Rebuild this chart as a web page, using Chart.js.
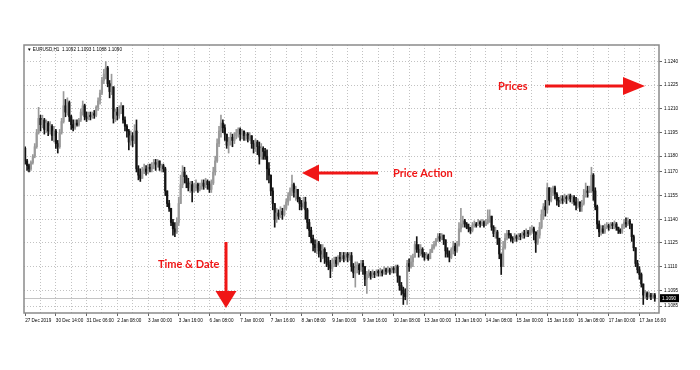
<!DOCTYPE html>
<html>
<head>
<meta charset="utf-8">
<script src="https://cdn.jsdelivr.net/npm/chart.js@4.4.1/dist/chart.umd.min.js"></script>
<style>
  html, body { margin: 0; padding: 0; background: #fff; }
  #wrap { width: 700px; height: 370px; }
</style>
</head>
<body>
<div id="wrap"><canvas id="chart" width="700" height="370"></canvas></div>
<script>
// EURUSD H1 candles, prices stored as pips above 1.1000
const BASE = 1.1;
const firstOpen = 185;

const closes = [
  177,174,172,176,180,186,195,204,200,203, 197,201,196,199,193,196,188,186,195,202,
  212,208,214,205,200,198,201,200,203,208, 212,205,204,206,205,207,206,211,215,220,
  228,232,236,226,221,224,204,208,206,210, 212,203,199,196,189,193,190,196,172,168,
  166,170,172,170,173,172,174,176,175,177, 173,174,172,158,150,147,138,134,132,138,
  150,162,170,167,163,160,162,158,160,162, 159,161,163,161,164,162,159,163,170,177,
  188,196,201,198,194,187,189,192,190,193, 195,197,194,196,193,194,191,193,188,185,
  189,186,180,185,183,180,172,168,158,150, 140,144,142,145,143,147,151,155,158,162,
  157,159,153,150,148,151,146,138,133,128, 124,122,125,120,118,121,116,113,111,109,
  112,114,112,116,115,117,115,118,116,117, 110,106,109,111,108,112,110,102,105,106,
  104,106,105,107,106,107,106,108,107,108, 107,109,108,110,104,98,95,93,91,112,
  110,113,116,124,121,119,121,118,116,117, 115,119,122,124,127,129,128,130,127,120,
  118,116,121,123,120,124,134,137,139,137, 135,134,133,136,137,136,138,137,138,136,
  138,140,142,135,131,132,128,118,110,122, 128,131,130,128,127,129,128,130,129,131,
  130,132,131,133,134,132,125,130,135,143, 148,146,160,152,157,160,156,152,151,153,
  152,154,153,155,153,154,151,149,151,148, 150,155,158,157,159,168,158,148,137,132,
  134,132,135,136,135,137,136,137,135,133, 132,136,138,137,139,137,129,122,112,108,
  105,99,92,93,91,92,91,92,90
];
const highs = [
  186,178,175,177,181,188,197,211,206,206, 204,203,202,202,200,199,197,190,197,204,
  221,216,217,215,206,203,203,203,204,210, 215,213,208,208,208,208,209,212,217,222,
  230,235,240,237,228,232,224,210,211,212, 214,212,205,200,197,196,195,200,203,174,
  172,173,175,174,175,175,176,178,178,178, 177,175,175,173,158,152,147,140,138,141,
  154,168,174,173,168,166,164,164,163,165, 163,163,165,165,166,165,164,165,173,180,
  191,199,206,203,200,194,192,195,194,195, 197,198,198,197,196,195,195,195,193,190,
  191,190,189,188,186,185,184,176,168,160, 150,147,146,148,147,149,153,157,160,168,
  163,161,159,154,152,154,154,147,140,135, 130,127,127,126,124,124,122,119,116,114,
  115,116,116,117,119,119,119,119,119,119, 119,112,113,113,112,114,114,110,107,108,
  107,108,107,108,108,109,108,110,109,110, 109,110,110,111,111,104,100,97,96,114,
  115,117,118,126,129,124,124,122,119,119, 118,121,124,126,128,131,131,131,130,127,
  122,120,122,126,125,126,138,147,142,140, 138,137,135,138,139,138,140,139,140,139,
  140,146,146,142,136,135,133,128,118,126, 131,133,133,131,129,131,130,131,131,132,
  133,134,133,135,136,135,132,133,138,146, 150,152,163,160,160,161,161,157,154,155,
  155,156,155,156,156,155,155,154,153,151, 152,159,163,161,161,173,169,160,149,139,
  136,136,137,138,137,138,138,139,138,135, 134,137,140,141,141,140,137,130,122,114,
  110,106,99,95,94,94,93,93,93
];
const lows = [
  175,171,170,171,175,179,185,194,196,198, 194,195,193,194,190,189,185,182,185,194,
  201,205,206,202,197,196,197,199,199,202, 206,203,202,203,203,204,204,205,209,213,
  219,226,229,224,217,219,201,202,203,204, 207,201,196,192,184,187,186,188,170,165,
  164,166,169,168,169,170,170,172,171,173, 171,170,170,155,148,145,136,130,129,131,
  136,150,160,163,160,158,157,151,157,158, 157,158,159,159,160,159,157,157,162,168,
  176,186,192,195,190,185,182,187,186,188, 191,192,190,191,190,190,189,190,185,182,
  183,181,175,178,178,178,165,163,155,146, 135,138,140,141,140,142,146,149,152,155,
  154,152,151,146,146,147,140,134,129,125, 120,119,118,116,113,115,112,110,108,103,
  107,110,110,111,113,114,113,114,113,114, 107,103,97,106,105,107,105,98,93,103,
  102,103,103,104,104,104,104,105,105,106, 105,106,106,106,100,95,92,86,89,86,
  107,109,110,116,119,116,117,116,114,115, 114,115,119,121,123,126,126,127,124,116,
  116,113,115,118,117,119,123,132,135,135, 134,132,131,132,135,135,136,135,136,135,
  136,137,138,133,129,128,124,115,105,110, 121,127,128,126,125,126,126,127,127,128,
  128,129,129,130,131,127,119,124,128,134, 140,142,144,149,151,155,153,149,148,150,
  150,151,150,152,151,150,149,146,147,145, 145,149,154,154,157,157,152,146,134,129,
  130,131,131,134,133,134,134,134,133,131, 131,131,134,135,136,134,126,120,110,106,
  102,97,86,90,89,90,89,90,88
];

// one label every 16 bars
const timeLabels = [
  '27 Dec 2019', '30 Dec 14:00', '31 Dec 06:00', '2 Jan 08:00', '3 Jan 00:00',
  '3 Jan 16:00', '6 Jan 08:00', '7 Jan 00:00', '7 Jan 16:00', '8 Jan 08:00',
  '9 Jan 00:00', '9 Jan 16:00', '10 Jan 08:00', '13 Jan 00:00', '13 Jan 16:00',
  '14 Jan 08:00', '15 Jan 00:00', '15 Jan 16:00', '16 Jan 08:00', '17 Jan 00:00',
  '17 Jan 16:00'
];
const priceTicks = [1.1085, 1.1095, 1.1110, 1.1125, 1.1140, 1.1155, 1.1170, 1.1180, 1.1195, 1.1210, 1.1225, 1.1240];
const symbolText = '\u25BC EURUSD,H1  1.1092 1.1093 1.1088 1.1090';
const lastPrice = 1.1090;

const RED = '#f01616';
const UP = '#9a9a9a';
const DOWN = '#141414';
const SMALL = '"Liberation Sans", Arial, sans-serif';

const toPrice = p => BASE + p / 10000;
const opens = closes.map((c, i) => i === 0 ? firstOpen : closes[i - 1]);
const candleColor = ctx => closes[ctx.dataIndex] >= opens[ctx.dataIndex] ? UP : DOWN;

const wicks = closes.map((c, i) => ({ x: i, y: [toPrice(lows[i]), toPrice(highs[i])] }));
const bodies = closes.map((c, i) => ({ x: i, y: [toPrice(opens[i]), toPrice(c)] }));

function arrow(ctx, x1, y1, x2, y2, headLen, headHalf, shaft) {
    const a = Math.atan2(y2 - y1, x2 - x1);
    const bx = x2 - Math.cos(a) * headLen;
    const by = y2 - Math.sin(a) * headLen;
    ctx.lineWidth = shaft;
    ctx.beginPath();
    ctx.moveTo(x1, y1);
    ctx.lineTo(bx, by);
    ctx.stroke();
    ctx.beginPath();
    ctx.moveTo(x2, y2);
    ctx.lineTo(bx + Math.sin(a) * headHalf, by - Math.cos(a) * headHalf);
    ctx.lineTo(bx - Math.sin(a) * headHalf, by + Math.cos(a) * headHalf);
    ctx.closePath();
    ctx.fill();
}

const frame = {
    id: 'frame',
    beforeDatasetsDraw(chart) {
        const { ctx, chartArea } = chart;
        const y = chart.scales.y.getPixelForValue(lastPrice);
        ctx.save();
        ctx.strokeStyle = '#c4c4c4';
        ctx.lineWidth = 1;
        ctx.beginPath();
        ctx.moveTo(chartArea.left, Math.round(y) + 0.5);
        ctx.lineTo(chartArea.right, Math.round(y) + 0.5);
        ctx.stroke();
        ctx.restore();
    },
    afterDraw(chart) {
        const { ctx, chartArea } = chart;
        ctx.save();
        ctx.strokeStyle = '#8a8a8a';
        ctx.lineWidth = 1.5;
        ctx.strokeRect(chartArea.left, chartArea.top, chartArea.right - chartArea.left, chartArea.bottom - chartArea.top);

        // symbol line
        ctx.fillStyle = '#000';
        ctx.font = '4.6px ' + SMALL;
        ctx.textBaseline = 'middle';
        ctx.fillText(symbolText, chartArea.left + 3, chartArea.top + 4.5);

        // last price box
        const py = chart.scales.y.getPixelForValue(lastPrice);
        ctx.fillStyle = '#000';
        ctx.fillRect(chartArea.right + 1, py - 4, 19, 8);
        ctx.fillStyle = '#fff';
        ctx.fillText(lastPrice.toFixed(4), chartArea.right + 3, py + 0.5);

        // annotations
        ctx.fillStyle = RED;
        ctx.strokeStyle = RED;
        arrow(ctx, 545, 86, 645, 86, 22, 9, 3);
        arrow(ctx, 378, 173, 302, 173, 17, 8.5, 3);
        arrow(ctx, 226, 242, 226, 308, 17, 10.5, 3);
        ctx.font = 'bold 11px Lato, "Open Sans", sans-serif';
        ctx.fillText('Prices', 498, 86);
        ctx.fillText('Price Action', 393, 173);
        ctx.fillText('Time & Date', 158, 264);
        ctx.restore();
    }
};

new Chart(document.getElementById('chart'), {
    type: 'bar',
    data: {
        datasets: [
            { data: bodies, barThickness: 1.5, grouped: false, order: 0,
              backgroundColor: candleColor, borderWidth: 0 },
            { data: wicks, barThickness: 1, grouped: false, order: 1,
              backgroundColor: candleColor, borderWidth: 0 }
        ]
    },
    options: {
        responsive: false,
        animation: false,
        devicePixelRatio: 1,
        layout: { padding: { left: 24, top: 45, right: 0, bottom: 0 } },
        plugins: { legend: { display: false }, tooltip: { enabled: false } },
        scales: {
            x: {
                type: 'linear',
                min: -0.6,
                max: 330.2,
                offset: false,
                afterBuildTicks: s => {
                    s.ticks = [];
                    for (let k = 0; k <= 41; k++) s.ticks.push({ value: k * 8 });
                },
                ticks: {
                    autoSkip: false, maxRotation: 0, align: 'start', padding: 2,
                    color: '#000',
                    font: { size: 4.6, family: SMALL },
                    callback: (v, i) => i % 2 === 0 ? (timeLabels[i / 2] || '') : ''
                },
                grid: {
                    offset: false,
                    color: ctx => ctx.index === 0 ? 'rgba(0,0,0,0)' : '#c2c2c2',
                    tickColor: ctx => ctx.index % 2 === 0 ? '#666' : 'rgba(0,0,0,0)',
                    tickLength: 3
                },
                border: { display: false, dash: [1, 2] },
                afterFit: s => { s.height = 57; }
            },
            y: {
                type: 'linear',
                position: 'right',
                min: 1.10806,
                max: 1.12505,
                afterBuildTicks: s => { s.ticks = priceTicks.map(v => ({ value: v })); },
                ticks: {
                    color: '#000', padding: 2,
                    font: { size: 4.6, family: SMALL },
                    callback: v => v.toFixed(4)
                },
                grid: { color: '#c2c2c2', tickColor: '#666', tickLength: 3 },
                border: { display: false, dash: [1, 2] },
                afterFit: s => { s.width = 41; }
            }
        }
    },
    plugins: [frame]
});
</script>
</body>
</html>
